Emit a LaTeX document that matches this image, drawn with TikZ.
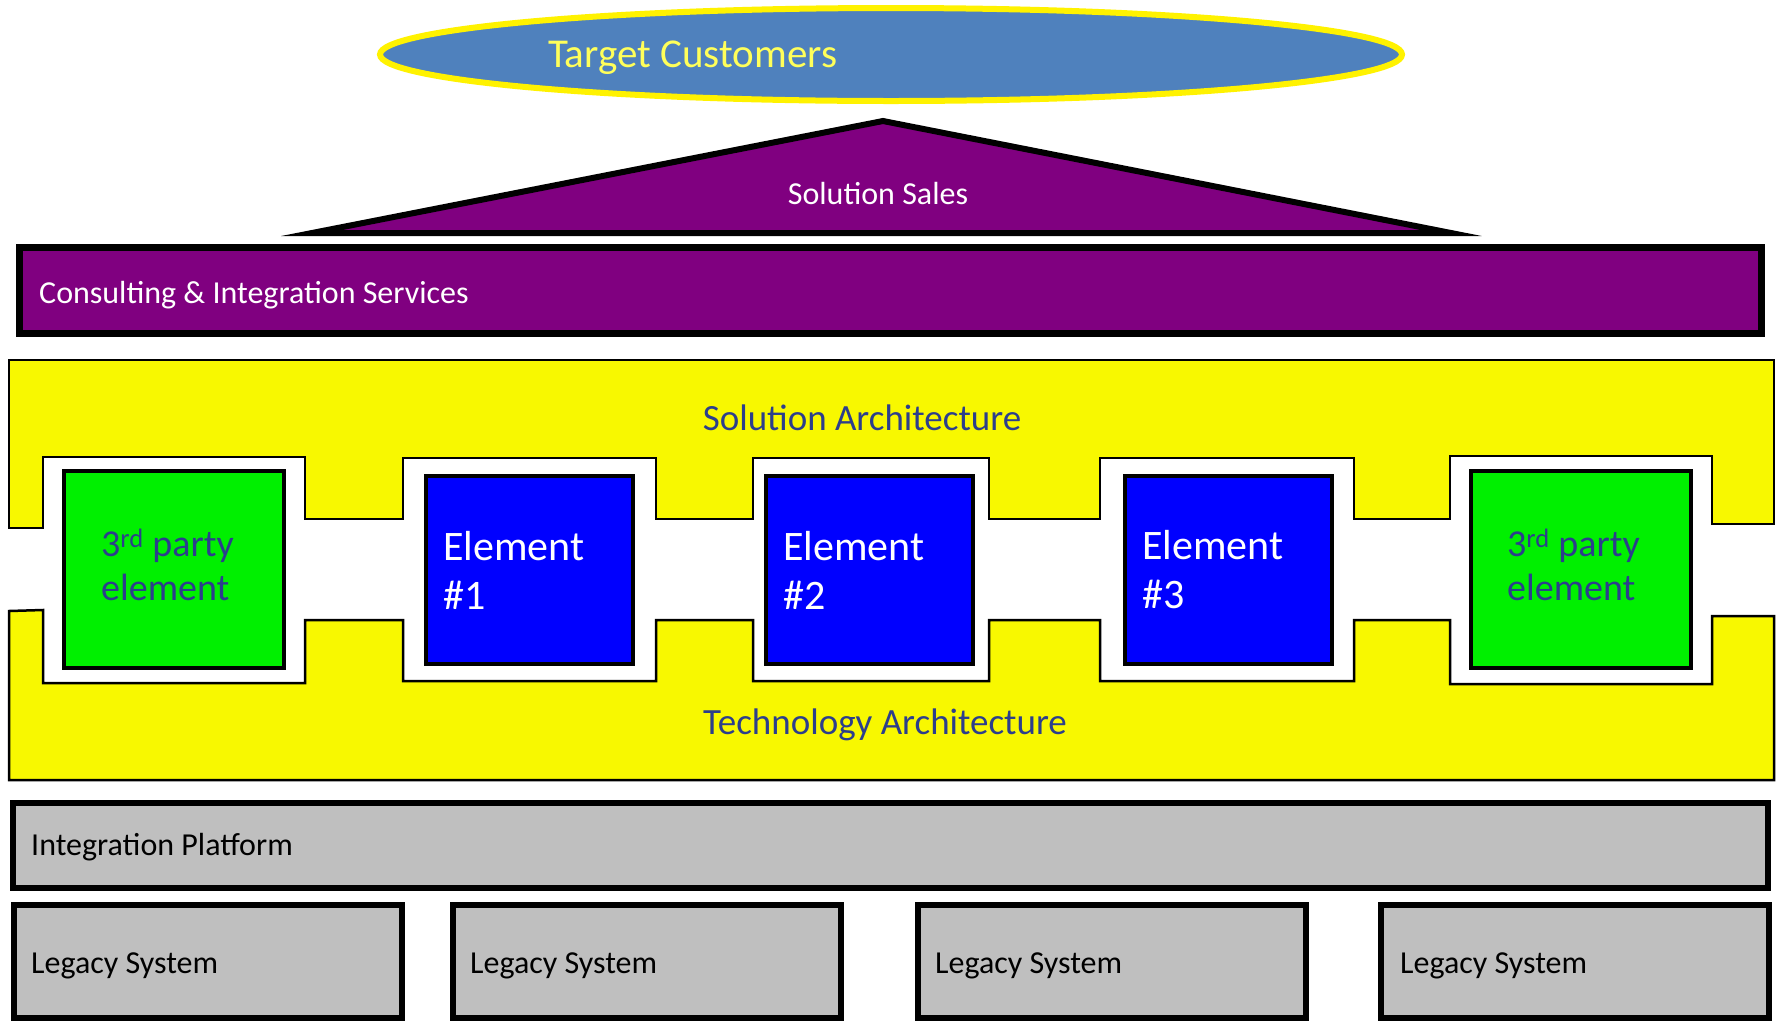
\documentclass[tikz,border=0pt]{standalone}
\usepackage{fontspec}
\setmainfont{Carlito}
\usepackage{tikz}
\usepackage{xcolor}
\usetikzlibrary{shapes.geometric}
\definecolor{custblue}{RGB}{79,129,189}
\definecolor{custtext}{RGB}{255,255,90}
\definecolor{salespurple}{RGB}{128,0,128}
\definecolor{archyellow}{RGB}{248,248,0}
\definecolor{archtext}{RGB}{44,62,140}
\definecolor{elemgreen}{RGB}{0,240,0}
\definecolor{elemblue}{RGB}{0,0,255}
\definecolor{platgray}{RGB}{191,191,191}
\tikzset{
  >=latex,
  layer/.style={draw=black,line width=6pt,outer sep=0pt,inner sep=0pt},
  elem/.style={draw=black,line width=3.5pt,fill=elemblue,outer sep=0pt,inner sep=0pt,
    minimum width=207pt,minimum height=188pt},
  party/.style={elem,fill=elemgreen,minimum width=220pt,minimum height=197pt},
  legacy/.style={layer,fill=platgray,minimum width=388pt,minimum height=113pt},
}
\tikzstyle{lbl}=[inner sep=0pt,font=\fontsize{32}{38}\selectfont]
\tikzstyle{archlbl}=[inner sep=0pt,anchor=base,text=archtext,font=\fontsize{37}{44}\selectfont]
\tikzstyle{elemlbl}=[inner sep=0pt,anchor=west,align=left,text=white,font=\fontsize{42}{49}\selectfont]
\tikzstyle{partylbl}=[inner sep=0pt,anchor=west,align=left,text=archtext,font=\fontsize{38}{44}\selectfont]

\begin{document}
\begin{tikzpicture}[x=1pt,y=-1pt]
    \useasboundingbox (0,0) rectangle (1777,1021);
    \node[ellipse,draw=yellow,line width=6pt,fill=custblue,inner sep=0pt,minimum width=1022pt,minimum height=93pt] (cust) at (891,54.5) {};
    \node[lbl,anchor=base west,text=custtext,font=\fontsize{41}{48}\selectfont] (custT) at (548,67) {Target Customers};
    \draw[line width=6pt,fill=salespurple,miter limit=20] (312,233) -- (883,121) -- (1451,233) -- cycle;
    \node[lbl,anchor=base,text=white] (sales) at (878,204) {Solution Sales};
    \node[layer,line width=7pt,fill=salespurple,minimum width=1742pt,minimum height=86pt] (cons) at (890.5,290.5) {};
    \node[lbl,anchor=base west,text=white] (consT) at (39,303) {Consulting \& Integration Services};
    \draw[line width=2.5pt,fill=archyellow] (9,360) -- (9,528) -- (43,528) -- (43,457) -- (305,457) -- (305,519) -- (403,519) -- (403,458) -- (656,458) -- (656,519) -- (753,519) -- (753,458) -- (989,458) -- (989,519) -- (1100,519) -- (1100,458) -- (1354,458) -- (1354,519) -- (1450,519) -- (1450,456) -- (1712,456) -- (1712,524) -- (1774,524) -- (1774,360) -- cycle;
    \draw[line width=2.5pt,fill=archyellow] (9,780) -- (9,611) -- (43,610) -- (43,683) -- (305,683) -- (305,620) -- (403,620) -- (403,681) -- (656,681) -- (656,620) -- (753,620) -- (753,681) -- (989,681) -- (989,620) -- (1100,620) -- (1100,681) -- (1354,681) -- (1354,620) -- (1450,620) -- (1450,684) -- (1712,684) -- (1712,616) -- (1774,616) -- (1774,780) -- cycle;
    \node[archlbl] (solArch) at (862,430) {Solution Architecture};
    \node[archlbl] (techArch) at (885,734) {Technology Architecture};
    \node[party] (p1) at (174,569.5) {};
    \node[elem] (e1) at (529.5,570) {};
    \node[elem] (e2) at (869.5,570) {};
    \node[elem] (e3) at (1228.5,570) {};
    \node[party] (p2) at (1581,569.5) {};
    \node[partylbl] (p1T) at ([xshift=37pt,yshift=5pt]p1.west) {3\textsuperscript{rd} party\\element};
    \node[elemlbl] (e1T) at ([xshift=17pt]e1.west) {Element\\\#1};
    \node[elemlbl] (e2T) at ([xshift=17pt]e2.west) {Element\\\#2};
    \node[elemlbl] (e3T) at ([xshift=17pt]e3.west) {Element\\\#3};
    \node[partylbl] (p2T) at ([xshift=36pt,yshift=5pt]p2.west) {3\textsuperscript{rd} party\\element};
    \node[layer,fill=platgray,minimum width=1755pt,minimum height=85pt] (plat) at (890.5,845.5) {};
    \node[lbl,anchor=base west] (platT) at (31,855) {Integration Platform};
    \node[legacy] (leg1) at (207.5,961.5) {};
    \node[legacy] (leg2) at (646.5,961.5) {};
    \node[legacy] (leg3) at (1111.5,961.5) {};
    \node[legacy] (leg4) at (1575,961.5) {};
    \node[lbl,anchor=base west] (leg1T) at (31,973) {Legacy System};
    \node[lbl,anchor=base west] (leg2T) at (470,973) {Legacy System};
    \node[lbl,anchor=base west] (leg3T) at (935,973) {Legacy System};
    \node[lbl,anchor=base west] (leg4T) at (1400,973) {Legacy System};
\end{tikzpicture}
\end{document}
